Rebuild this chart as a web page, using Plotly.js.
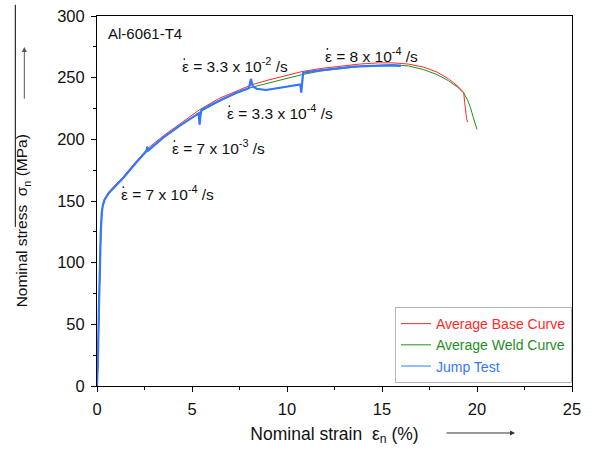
<!DOCTYPE html>
<html>
<head>
<meta charset="utf-8">
<script src="https://cdn.plot.ly/plotly-3.0.1.min.js"></script>
<style>html,body{margin:0;padding:0;background:#fff;}#chart{width:596px;height:454px;}</style>
</head>
<body>
<div id="chart"></div>
<script>
// Average base curve (strain %, stress MPa)
const baseStrain = [0, 0.05, 0.1, 0.15, 0.2, 0.25, 0.3, 0.4, 0.6, 0.9, 1.4, 2.0, 2.7, 3.5, 4.4, 5.4, 6.4, 7.3, 8.1, 9.0, 10.0, 10.8, 11.8, 12.8, 13.8, 14.8, 15.6, 16.4, 17.2, 17.9, 18.5, 19.0, 19.3, 19.35, 19.4, 19.45, 19.5];
const baseStress = [0, 20, 60, 100, 125, 140, 147, 152, 157, 162, 170, 181, 193, 203, 213, 224, 233, 239, 244, 248, 252, 255, 257.5, 259.5, 261, 262, 262, 261, 258.5, 254.5, 249, 243, 238, 230, 222, 217, 214];
// Average weld curve
const weldStrain = [0, 0.05, 0.1, 0.15, 0.2, 0.25, 0.3, 0.4, 0.6, 0.9, 1.4, 2.0, 2.7, 3.5, 4.4, 5.4, 6.4, 7.3, 8.1, 9.0, 10.0, 10.8, 11.8, 12.8, 13.8, 14.8, 15.6, 16.4, 17.2, 17.9, 18.5, 19.0, 19.3, 19.5, 19.65, 19.8, 19.9, 20.0];
const weldStress = [0, 18, 58, 98, 123, 138, 146, 151, 156, 161, 169, 180, 191.5, 201.5, 211, 222, 230.5, 237, 242, 245.5, 249.5, 252.5, 255.5, 257.5, 259, 260, 260.5, 259.5, 256.5, 252.5, 247.5, 242, 237.5, 232, 226, 218, 212, 208];
// Jump test
const jumpStrain = [0, 0.05, 0.1, 0.15, 0.2, 0.25, 0.3, 0.4, 0.6, 0.9, 1.4, 2.0, 2.6, 2.65, 2.7, 3.5, 4.4, 5.35, 5.4, 5.45, 5.5, 6.4, 7.3, 8.0, 8.1, 8.2, 8.4, 8.9, 9.5, 10.2, 10.7, 10.75, 10.8, 10.85, 11.5, 12.5, 13.5, 14.5, 15.5, 16.0];
const jumpStress = [0, 22, 62, 102, 126, 140, 146, 151, 156, 161, 169, 180, 190.5, 194, 191, 201.5, 211.5, 221, 212, 220, 224, 231, 237.5, 241.5, 249, 243, 241, 240, 241.5, 243, 244.5, 238, 246, 254, 255.5, 257.5, 259, 259.5, 260, 259.5];

const seriesNames = ['Average Base Curve', 'Average Weld Curve', 'Jump Test'];
const xTickVals = [0, 5, 10, 15, 20, 25];
const yTickVals = [0, 50, 100, 150, 200, 250, 300];

const specimenLabel = 'Al-6061-T4';
const rateText = ['ε = 3.3 x 10<sup>-2</sup> /s', 'ε = 8 x 10<sup>-4</sup> /s', 'ε = 3.3 x 10<sup>-4</sup> /s', 'ε = 7 x 10<sup>-3</sup> /s', 'ε = 7 x 10<sup>-4</sup> /s'];
const rateX = [4.38, 11.91, 6.75, 3.86, 1.17];
const rateY = [260.3, 268.5, 222.2, 193.8, 156.5];

const RED = '#ff2a2a', GREEN = '#1f8f1f', BLUE = '#3377ff';
const FONT = 'Liberation Sans, Arial, sans-serif';

const traces = [
  {x: weldStrain, y: weldStress, mode: 'lines', line: {color: GREEN, width: 1}, name: '<span style="color:' + GREEN + '">' + seriesNames[1] + '</span>', legendrank: 2},
  {x: baseStrain, y: baseStress, mode: 'lines', line: {color: RED, width: 1}, name: '<span style="color:' + RED + '">' + seriesNames[0] + '</span>', legendrank: 1},
  {x: jumpStrain, y: jumpStress, mode: 'lines', line: {color: BLUE, width: 1}, name: '<span style="color:' + BLUE + '">' + seriesNames[2] + '</span>', legendrank: 3},
  {x: jumpStrain, y: jumpStress, mode: 'lines', line: {color: BLUE, width: 2.2}, showlegend: false, hoverinfo: 'skip'}
];

const annotations = [];
annotations.push({x: 0.49, y: 285.5, xref: 'x', yref: 'y', text: specimenLabel, showarrow: false,
  xanchor: 'left', yanchor: 'middle', font: {family: FONT, size: 15, color: '#111'}});
const shapes = [
  {type: 'line', xref: 'paper', yref: 'paper', x0: -0.172, x1: -0.172, y0: 0.43, y1: 1.03, line: {color: '#000', width: 1}}
];
rateText.forEach((t, i) => {
  annotations.push({x: rateX[i], y: rateY[i], xref: 'x', yref: 'y', text: t, showarrow: false,
    xanchor: 'left', yanchor: 'middle', font: {family: FONT, size: 15.5, color: '#111'}});
  // the "dot" of epsilon-dot, placed in pixels relative to the label anchor
  shapes.push({type: 'circle', xref: 'x', yref: 'y', xsizemode: 'pixel', ysizemode: 'pixel',
    xanchor: rateX[i], yanchor: rateY[i], x0: 3.2, x1: 5.0, y0: 5.0, y1: 6.8,
    fillcolor: '#111', line: {width: 0}});
});
// y-axis title (placed like the reference, slightly below centre)
annotations.push({xref: 'paper', yref: 'paper', x: -0.155, y: 0.446, xanchor: 'center', yanchor: 'middle', textangle: -90,
  text: 'Nominal stress  σ<sub>n</sub> (MPa)', showarrow: false, font: {family: FONT, size: 15.5, color: '#111'}});
annotations.push({xref: 'paper', yref: 'paper', x: 0.880, y: -0.127, ax: -70, ay: 0, text: '', showarrow: true, arrowhead: 2, arrowsize: 1, arrowwidth: 1, arrowcolor: '#333'});
annotations.push({xref: 'paper', yref: 'paper', x: -0.153, y: 0.916, ax: 0, ay: 53, text: '', showarrow: true, arrowhead: 2, arrowsize: 1, arrowwidth: 1, arrowcolor: '#555'});

const layout = {
  width: 596, height: 454,
  margin: {l: 97, r: 24, t: 16, b: 68},
  paper_bgcolor: '#fff', plot_bgcolor: '#fff',
  font: {family: FONT, color: '#111'},
  showlegend: true,
  legend: {x: 1, y: 0.008, xanchor: 'right', yanchor: 'bottom', bordercolor: '#b5b5b5', borderwidth: 1, bgcolor: '#fff', font: {family: FONT, size: 14}, traceorder: 'normal', tracegroupgap: 0, itemwidth: 30},
  xaxis: {
    range: [0, 25], tickvals: xTickVals, ticktext: xTickVals.map(String),
    showline: true, linecolor: '#000', linewidth: 1, mirror: true,
    ticks: 'outside', ticklen: 5, tickcolor: '#000', showgrid: false, zeroline: false,
    minor: {dtick: 2.5, ticks: 'outside', ticklen: 3, tickcolor: '#000'},
    tickfont: {family: FONT, size: 16.5, color: '#111'}, ticklabelstandoff: 3,
    title: {text: 'Nominal strain  ε<sub>n</sub> (%)', font: {family: FONT, size: 17.5, color: '#111'}, standoff: 10}
  },
  yaxis: {
    range: [0, 300], tickvals: yTickVals, ticktext: yTickVals.map(String),
    showline: true, linecolor: '#000', linewidth: 1, mirror: true,
    ticks: 'outside', ticklen: 5, tickcolor: '#000', showgrid: false, zeroline: false,
    minor: {dtick: 25, ticks: 'outside', ticklen: 3, tickcolor: '#000'},
    tickfont: {family: FONT, size: 16.5, color: '#111'}, ticklabelstandoff: 3
  },
  annotations: annotations,
  shapes: shapes
};

Plotly.newPlot('chart', traces, layout, {staticPlot: true, displayModeBar: false});
</script>
</body>
</html>
